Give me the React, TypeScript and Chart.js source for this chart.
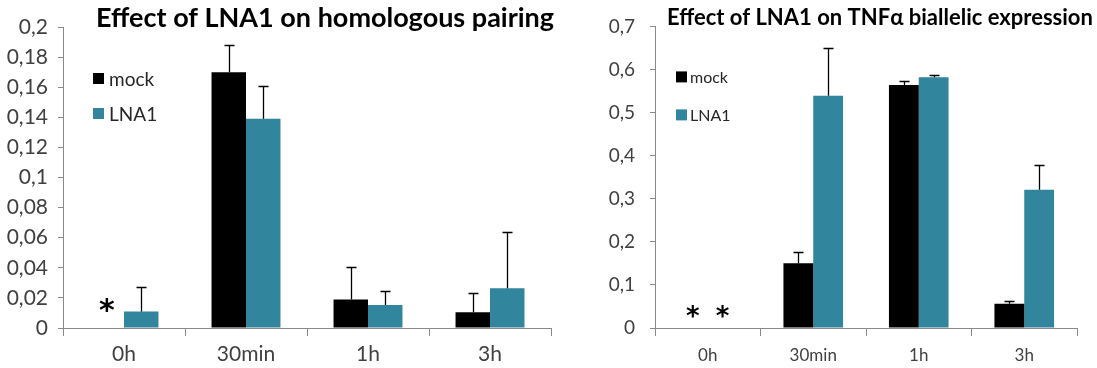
import React, { useEffect, useRef } from 'react';
import { Chart, registerables } from 'chart.js';

Chart.register(...registerables);

// ---------- data ----------
const categories = ['0h', '30min', '1h', '3h'];
const seriesNames = ['mock', 'LNA1'];

// Panel 1: homologous pairing
const pairingMock = [0, 0.17, 0.019, 0.0104];
const pairingMockErr = [0, 0.018, 0.0217, 0.0126];
const pairingLNA1 = [0.011, 0.139, 0.0153, 0.0264];
const pairingLNA1Err = [0.016, 0.0217, 0.0095, 0.0376];
const pairingMockStars = [true, false, false, false];
const pairingLNA1Stars = [false, false, false, false];

// Panel 2: TNFα biallelic expression
const exprMock = [0, 0.15, 0.564, 0.056];
const exprMockErr = [0, 0.026, 0.009, 0.006];
const exprLNA1 = [0, 0.539, 0.582, 0.321];
const exprLNA1Err = [0, 0.11, 0.006, 0.057];
const exprMockStars = [true, false, false, false];
const exprLNA1Stars = [true, false, false, false];

const titles = ['Effect of LNA1 on homologous pairing', 'Effect of LNA1 on TNFα biallelic expression'];

// ---------- styles ----------
const AXIS = '#898989';
const LABEL = '#404040';
const COLORS = ['#000000', '#31859C'];
const FONT = 'Lato';

function fmt(v: number) {
  const r = Math.round(v * 1000) / 1000;
  return String(r).replace('.', ',');
}

type PanelCfg = {
  left: number;
  width: number;
  yMax: number;
  step: number;
  yWidth: number;
  padTop: number;
  padRight: number;
  yFont: number;
  yPad: number;
  xFont: number;
  xPad: number;
  title: string;
  titleFont: number;
  titleX: number;
  titleBaseline: number;
  legDx: number;
  legDy: number;
  legSize: number;
  legGap: number;
  legTextDx: number;
  legFont: number;
  starSize: number;
  starLift: number;
  values: number[][];
  errors: number[][];
  stars: boolean[][];
};

function makeDecor(cfg: PanelCfg) {
  return {
    id: 'decor',
    afterDatasetsDraw(chart: any) {
      const ctx = chart.ctx as CanvasRenderingContext2D;
      const yScale = chart.scales.y;
      const area = chart.chartArea;
      ctx.save();
      // error bars
      ctx.strokeStyle = '#000000';
      ctx.lineWidth = 1.3;
      cfg.values.forEach((vals, di) => {
        const meta = chart.getDatasetMeta(di);
        vals.forEach((v, j) => {
          const e = cfg.errors[di][j];
          if (!e) return;
          const el = meta.data[j];
          const x = Math.round(el.x) + 0.5;
          const yTop = Math.round(yScale.getPixelForValue(v + e)) + 0.5;
          const yBar = el.y;
          ctx.beginPath();
          ctx.moveTo(x, yBar);
          ctx.lineTo(x, yTop);
          ctx.moveTo(x - 5, yTop);
          ctx.lineTo(x + 5, yTop);
          ctx.stroke();
        });
      });
      // asterisks
      ctx.fillStyle = '#000000';
      ctx.font = `bold ${cfg.starSize}px "DejaVu Sans"`;
      ctx.textAlign = 'center';
      ctx.textBaseline = 'alphabetic';
      const m = ctx.measureText('*');
      const asc = m.actualBoundingBoxAscent;
      const desc = m.actualBoundingBoxDescent;
      cfg.stars.forEach((flags, di) => {
        const meta = chart.getDatasetMeta(di);
        flags.forEach((f, j) => {
          if (!f) return;
          const el = meta.data[j];
          const cy = yScale.getPixelForValue(0) - cfg.starLift;
          ctx.fillText('*', el.x, cy + (asc - desc) / 2);
        });
      });
      // title
      ctx.textAlign = 'left';
      ctx.font = `bold ${cfg.titleFont}px ${FONT}`;
      ctx.fillText(cfg.title, cfg.titleX, cfg.titleBaseline);
      // legend
      ctx.font = `${cfg.legFont}px ${FONT}`;
      ctx.textBaseline = 'middle';
      seriesNames.forEach((name, i) => {
        const sx = area.left + cfg.legDx;
        const sy = area.top + cfg.legDy + i * cfg.legGap;
        ctx.fillStyle = COLORS[i];
        ctx.fillRect(sx, sy, cfg.legSize, cfg.legSize);
        ctx.fillStyle = '#262626';
        ctx.fillText(name, sx + cfg.legTextDx, sy + cfg.legSize / 2 + 1);
      });
      ctx.restore();
    },
  };
}

function Panel({ cfg }: { cfg: PanelCfg }) {
  const ref = useRef<HTMLCanvasElement>(null);
  useEffect(() => {
    const chart = new Chart(ref.current as HTMLCanvasElement, {
      type: 'bar',
      data: {
        labels: categories,
        datasets: seriesNames.map((name, i) => ({
          label: name,
          data: cfg.values[i],
          backgroundColor: COLORS[i],
          borderWidth: 0,
          categoryPercentage: 0.565,
          barPercentage: 1.0,
        })),
      },
      options: {
        responsive: false,
        animation: false,
        events: [],
        layout: { padding: { left: 0, right: cfg.padRight, top: cfg.padTop, bottom: 0 } },
        plugins: {
          legend: { display: false },
          title: { display: false },
          tooltip: { enabled: false },
        },
        scales: {
          x: {
            type: 'category',
            grid: {
              display: true,
              drawOnChartArea: false,
              drawTicks: true,
              tickLength: 8,
              color: AXIS,
              offset: true,
            },
            border: { display: true, color: AXIS, width: 1 },
            ticks: {
              font: { family: FONT, size: cfg.xFont },
              color: LABEL,
              padding: cfg.xPad,
              maxRotation: 0,
            },
            afterFit: (s: any) => {
              s.height = 40;
            },
          },
          y: {
            min: 0,
            max: cfg.yMax,
            grid: {
              display: true,
              drawOnChartArea: false,
              drawTicks: true,
              tickLength: 5,
              color: AXIS,
            },
            border: { display: true, color: AXIS, width: 1 },
            ticks: {
              stepSize: cfg.step,
              font: { family: FONT, size: cfg.yFont },
              color: LABEL,
              padding: cfg.yPad,
              callback: (v: any) => fmt(Number(v)),
            },
            afterFit: (s: any) => {
              s.width = cfg.yWidth;
            },
          },
        },
      } as any,
      plugins: [makeDecor(cfg)],
    });
    return () => chart.destroy();
  }, []);
  return (
    <canvas
      ref={ref}
      width={cfg.width}
      height={368}
      style={{ position: 'absolute', left: cfg.left, top: 0, width: cfg.width, height: 368 }}
    />
  );
}

const leftCfg: PanelCfg = {
  left: 0,
  width: 600,
  yMax: 0.2,
  step: 0.02,
  yWidth: 63,
  padTop: 27,
  padRight: 49,
  yFont: 21,
  yPad: 10,
  xFont: 21,
  xPad: 6,
  title: titles[0],
  titleFont: 27,
  titleX: 96,
  titleBaseline: 27,
  legDx: 30,
  legDy: 46,
  legSize: 11,
  legGap: 35,
  legTextDx: 16,
  legFont: 19,
  starSize: 30,
  starLift: 22.5,
  values: [pairingMock, pairingLNA1],
  errors: [pairingMockErr, pairingLNA1Err],
  stars: [pairingMockStars, pairingLNA1Stars],
};

const rightCfg: PanelCfg = {
  left: 600,
  width: 497,
  yMax: 0.7,
  step: 0.1,
  yWidth: 55,
  padTop: 22,
  padRight: 20,
  yFont: 19,
  yPad: 15,
  xFont: 17,
  xPad: 9,
  title: titles[1],
  titleFont: 22,
  titleX: 67,
  titleBaseline: 25,
  legDx: 21,
  legDy: 45,
  legSize: 11,
  legGap: 38,
  legTextDx: 14,
  legFont: 16,
  starSize: 26,
  starLift: 17,
  values: [exprMock, exprLNA1],
  errors: [exprMockErr, exprLNA1Err],
  stars: [exprMockStars, exprLNA1Stars],
};

export default function App() {
  return (
    <div style={{ position: 'absolute', left: 0, top: 0, width: 1097, height: 368, background: '#ffffff' }}>
      <Panel cfg={leftCfg} />
      <Panel cfg={rightCfg} />
    </div>
  );
}
